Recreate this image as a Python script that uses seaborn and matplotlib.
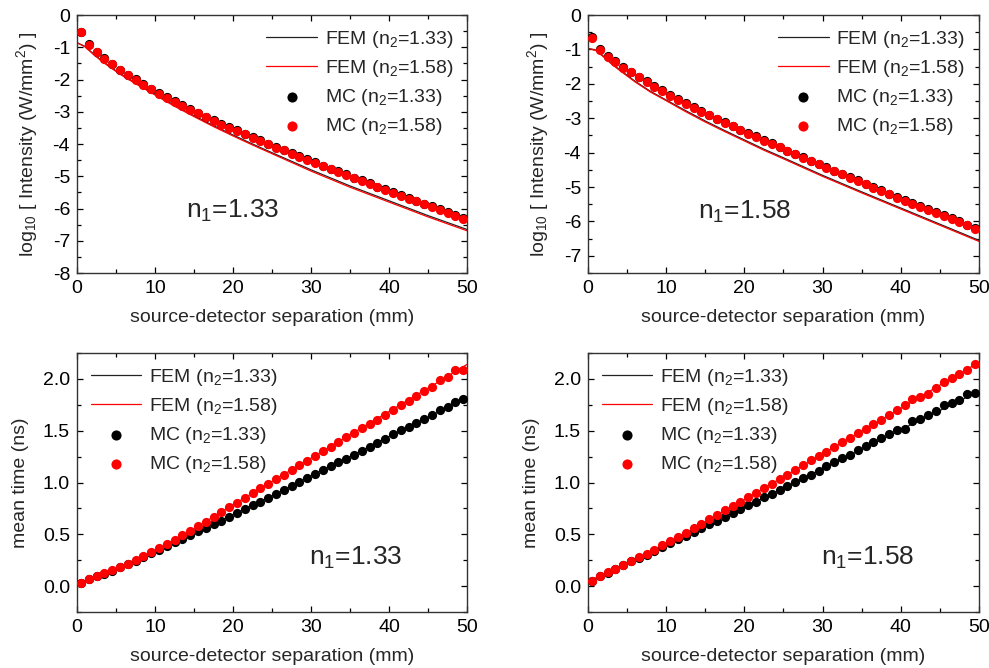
import numpy as np
import pandas as pd
import matplotlib
matplotlib.use("Agg")
import matplotlib.pyplot as plt
from matplotlib.ticker import MultipleLocator
import seaborn as sns

# ---------------- data ----------------
x_mc = np.arange(0.5, 50.0, 1.0)
x_fem_top = [0, 1, 2, 3, 4, 5, 6, 8, 10, 12.5, 15, 17.5, 20, 22.5, 25, 30, 35, 40, 45, 50]
x_fem_bot = [0, 5, 10, 15, 20, 25, 30, 35, 40, 45, 50]

# top-left: n1 = 1.33, log10 intensity
tl_mc_133 = [-0.52, -0.91, -1.14, -1.33, -1.51, -1.69, -1.85, -1.99, -2.15, -2.28,
             -2.42, -2.55, -2.67, -2.80, -2.91, -3.03, -3.15, -3.26, -3.38, -3.48,
             -3.58, -3.68, -3.79, -3.89, -3.99, -4.09, -4.18, -4.28, -4.38, -4.47,
             -4.57, -4.67, -4.76, -4.85, -4.94, -5.04, -5.13, -5.22, -5.32, -5.41,
             -5.50, -5.59, -5.68, -5.76, -5.85, -5.93, -6.03, -6.12, -6.21, -6.30]
tl_mc_158 = [-0.54, -0.93, -1.16, -1.35, -1.53, -1.71, -1.87, -2.01, -2.17, -2.30,
             -2.44, -2.57, -2.69, -2.82, -2.93, -3.05, -3.17, -3.28, -3.40, -3.50,
             -3.60, -3.70, -3.81, -3.91, -4.01, -4.11, -4.20, -4.30, -4.40, -4.49,
             -4.59, -4.69, -4.78, -4.87, -4.96, -5.06, -5.15, -5.24, -5.34, -5.43,
             -5.52, -5.61, -5.70, -5.78, -5.87, -5.95, -6.05, -6.14, -6.23, -6.32]
tl_fem_133 = [-0.86, -0.97, -1.18, -1.38, -1.56, -1.73, -1.89, -2.18, -2.45, -2.80,
              -3.12, -3.43, -3.72, -4.00, -4.27, -4.80, -5.30, -5.76, -6.22, -6.65]
tl_fem_158 = [-0.86, -0.98, -1.20, -1.40, -1.58, -1.75, -1.91, -2.20, -2.48, -2.83,
              -3.15, -3.46, -3.75, -4.03, -4.30, -4.84, -5.34, -5.80, -6.26, -6.69]

# top-right: n1 = 1.58, log10 intensity
tr_mc_133 = [-0.64, -0.99, -1.19, -1.35, -1.51, -1.65, -1.79, -1.93, -2.07, -2.19,
             -2.32, -2.44, -2.56, -2.67, -2.80, -2.90, -3.01, -3.12, -3.22, -3.33,
             -3.44, -3.53, -3.63, -3.73, -3.83, -3.94, -4.03, -4.13, -4.23, -4.32,
             -4.42, -4.52, -4.61, -4.71, -4.81, -4.90, -5.00, -5.10, -5.19, -5.29,
             -5.38, -5.47, -5.56, -5.65, -5.73, -5.82, -5.91, -5.99, -6.09, -6.19]
tr_mc_158 = [-0.66, -1.01, -1.21, -1.37, -1.53, -1.67, -1.81, -1.95, -2.09, -2.21,
             -2.34, -2.46, -2.58, -2.69, -2.82, -2.92, -3.03, -3.14, -3.24, -3.35,
             -3.46, -3.55, -3.65, -3.75, -3.85, -3.96, -4.05, -4.15, -4.25, -4.34,
             -4.44, -4.54, -4.63, -4.73, -4.83, -4.92, -5.02, -5.12, -5.21, -5.31,
             -5.40, -5.49, -5.58, -5.67, -5.75, -5.84, -5.93, -6.01, -6.11, -6.21]
tr_fem_133 = [-0.97, -1.02, -1.20, -1.40, -1.58, -1.75, -1.92, -2.22, -2.47, -2.78,
              -3.08, -3.36, -3.63, -3.90, -4.15, -4.66, -5.14, -5.61, -6.08, -6.55]
tr_fem_158 = [-0.97, -1.03, -1.22, -1.42, -1.60, -1.77, -1.94, -2.24, -2.49, -2.81,
              -3.11, -3.39, -3.66, -3.93, -4.18, -4.69, -5.17, -5.64, -6.11, -6.58]

# bottom-left: n1 = 1.33, mean time (ns)
bl_mc_133 = [0.030, 0.065, 0.095, 0.120, 0.150, 0.180, 0.210, 0.245, 0.280, 0.315,
             0.348, 0.387, 0.423, 0.458, 0.494, 0.529, 0.565, 0.600, 0.632, 0.668,
             0.706, 0.745, 0.781, 0.816, 0.852, 0.890, 0.929, 0.968, 1.006, 1.045,
             1.084, 1.123, 1.155, 1.194, 1.229, 1.268, 1.306, 1.345, 1.377, 1.419,
             1.468, 1.510, 1.539, 1.571, 1.616, 1.648, 1.700, 1.732, 1.774, 1.806]
bl_mc_158 = [0.032, 0.068, 0.097, 0.123, 0.155, 0.184, 0.216, 0.252, 0.287, 0.326,
             0.365, 0.406, 0.445, 0.490, 0.535, 0.580, 0.623, 0.671, 0.716, 0.765,
             0.806, 0.852, 0.897, 0.945, 0.987, 1.032, 1.077, 1.119, 1.168, 1.210,
             1.255, 1.300, 1.345, 1.387, 1.435, 1.477, 1.523, 1.568, 1.606, 1.655,
             1.703, 1.752, 1.787, 1.832, 1.887, 1.919, 1.987, 2.016, 2.084, 2.084]
bl_fem_133 = [0.02, 0.165, 0.33, 0.51, 0.69, 0.87, 1.065, 1.25, 1.445, 1.63, 1.825]
bl_fem_158 = [0.02, 0.17, 0.345, 0.555, 0.785, 1.01, 1.235, 1.46, 1.685, 1.91, 2.14]

# bottom-right: n1 = 1.58, mean time (ns)
br_mc_133 = [0.050, 0.095, 0.130, 0.165, 0.200, 0.238, 0.272, 0.305, 0.342, 0.380,
             0.415, 0.452, 0.487, 0.523, 0.561, 0.597, 0.632, 0.668, 0.706, 0.745,
             0.781, 0.816, 0.858, 0.890, 0.926, 0.968, 1.003, 1.042, 1.077, 1.116,
             1.155, 1.197, 1.232, 1.268, 1.310, 1.355, 1.387, 1.426, 1.465, 1.506,
             1.519, 1.594, 1.616, 1.648, 1.687, 1.745, 1.768, 1.800, 1.858, 1.868]
br_mc_158 = [0.052, 0.097, 0.132, 0.168, 0.203, 0.242, 0.277, 0.313, 0.352, 0.394,
             0.435, 0.474, 0.516, 0.558, 0.600, 0.645, 0.687, 0.732, 0.774, 0.816,
             0.861, 0.903, 0.948, 0.990, 1.032, 1.077, 1.123, 1.168, 1.213, 1.258,
             1.297, 1.339, 1.387, 1.429, 1.474, 1.516, 1.565, 1.606, 1.655, 1.697,
             1.745, 1.806, 1.826, 1.858, 1.916, 1.968, 2.006, 2.048, 2.084, 2.148]
br_fem_133 = [0.04, 0.22, 0.40, 0.58, 0.76, 0.945, 1.135, 1.32, 1.51, 1.695, 1.88]
br_fem_158 = [0.04, 0.225, 0.41, 0.62, 0.835, 1.055, 1.275, 1.495, 1.715, 1.94, 2.16]

legend_labels = [r"FEM (n$_2$=1.33)", r"FEM (n$_2$=1.58)",
                 r"MC (n$_2$=1.33)", r"MC (n$_2$=1.58)"]
xlabel = "source-detector separation (mm)"
ylabel_top = r"log$_{10}$ [ Intensity (W/mm$^2$) ]"
ylabel_bot = "mean time (ns)"

# ---------------- style ----------------
sns.set_theme(style="ticks")
plt.rcParams["font.family"] = ["Liberation Sans", "DejaVu Sans"]
plt.rcParams["mathtext.fontset"] = "custom"
plt.rcParams["mathtext.rm"] = "Liberation Sans"
plt.rcParams["mathtext.it"] = "Liberation Sans"
plt.rcParams["mathtext.default"] = "regular"
plt.rcParams["axes.unicode_minus"] = False

RED = "#ff0000"
BLACK = "#000000"
FS = 14

fig = plt.figure(figsize=(9.89, 6.68), dpi=100)
axes = {
    "tl": fig.add_axes([0.0779, 0.5913, 0.3943, 0.3862]),
    "tr": fig.add_axes([0.5945, 0.5913, 0.3953, 0.3862]),
    "bl": fig.add_axes([0.0779, 0.0838, 0.3943, 0.3877]),
    "br": fig.add_axes([0.5945, 0.0838, 0.3953, 0.3877]),
}

panels = {
    "tl": (x_fem_top, tl_fem_133, tl_fem_158, tl_mc_133, tl_mc_158, "1.33"),
    "tr": (x_fem_top, tr_fem_133, tr_fem_158, tr_mc_133, tr_mc_158, "1.58"),
    "bl": (x_fem_bot, bl_fem_133, bl_fem_158, bl_mc_133, bl_mc_158, "1.33"),
    "br": (x_fem_bot, br_fem_133, br_fem_158, br_mc_133, br_mc_158, "1.58"),
}

for key, ax in axes.items():
    xf, f133, f158, m133, m158, n1 = panels[key]
    top = key.startswith("t")
    sns.lineplot(x=xf, y=f133, ax=ax, color="#222222", lw=0.9, label=legend_labels[0],
                 zorder=2)
    sns.lineplot(x=xf, y=f158, ax=ax, color=RED, lw=0.9, label=legend_labels[1],
                 zorder=2)
    sns.scatterplot(x=x_mc, y=m133, ax=ax, color=BLACK, s=44, linewidth=0,
                    label=legend_labels[2], zorder=3)
    sns.scatterplot(x=x_mc, y=m158, ax=ax, color=RED, s=44, linewidth=0,
                    label=legend_labels[3], zorder=4)

    ax.set_xlim(0, 50)
    ax.xaxis.set_major_locator(MultipleLocator(10))
    ax.xaxis.set_minor_locator(MultipleLocator(5))
    if top:
        if key == "tl":
            ax.set_ylim(-8, 0)
        else:
            ax.set_ylim(-7.5, 0)
        ax.yaxis.set_major_locator(MultipleLocator(1))
        ax.yaxis.set_minor_locator(MultipleLocator(0.5))
        ax.set_ylabel(ylabel_top, fontsize=FS, labelpad=9)
        leg_loc = "upper right"
        txt_pos = (0.40, 0.24 if key == "tl" else 0.235)
    else:
        ax.set_ylim(-0.25, 2.25)
        ax.yaxis.set_major_locator(MultipleLocator(0.5))
        ax.yaxis.set_minor_locator(MultipleLocator(0.25))
        ax.yaxis.set_major_formatter(plt.FormatStrFormatter("%.1f"))
        ax.set_ylabel(ylabel_bot, fontsize=FS, labelpad=10)
        leg_loc = "upper left"
        txt_pos = (0.715, 0.21)
    ax.set_xlabel(xlabel, fontsize=FS, labelpad=9)

    ax.tick_params(which="both", direction="in", top=True, right=True,
                   labelsize=FS, colors="#000000")
    ax.tick_params(which="major", length=4.5, width=0.9, pad=5)
    ax.tick_params(which="minor", length=3, width=0.9)
    for sp in ax.spines.values():
        sp.set_color("#333333")
        sp.set_linewidth(1.0)
        sp.set_visible(True)

    leg = ax.legend(loc=leg_loc, frameon=False, fontsize=FS, handlelength=2.6,
                    handletextpad=0.4, labelspacing=0.42, borderaxespad=0.3,
                    markerscale=1.1)
    ax.text(txt_pos[0], txt_pos[1], r"n$_1$=" + n1, transform=ax.transAxes,
            ha="center", va="center", fontsize=19)

fig.savefig("out.png", dpi=100)
